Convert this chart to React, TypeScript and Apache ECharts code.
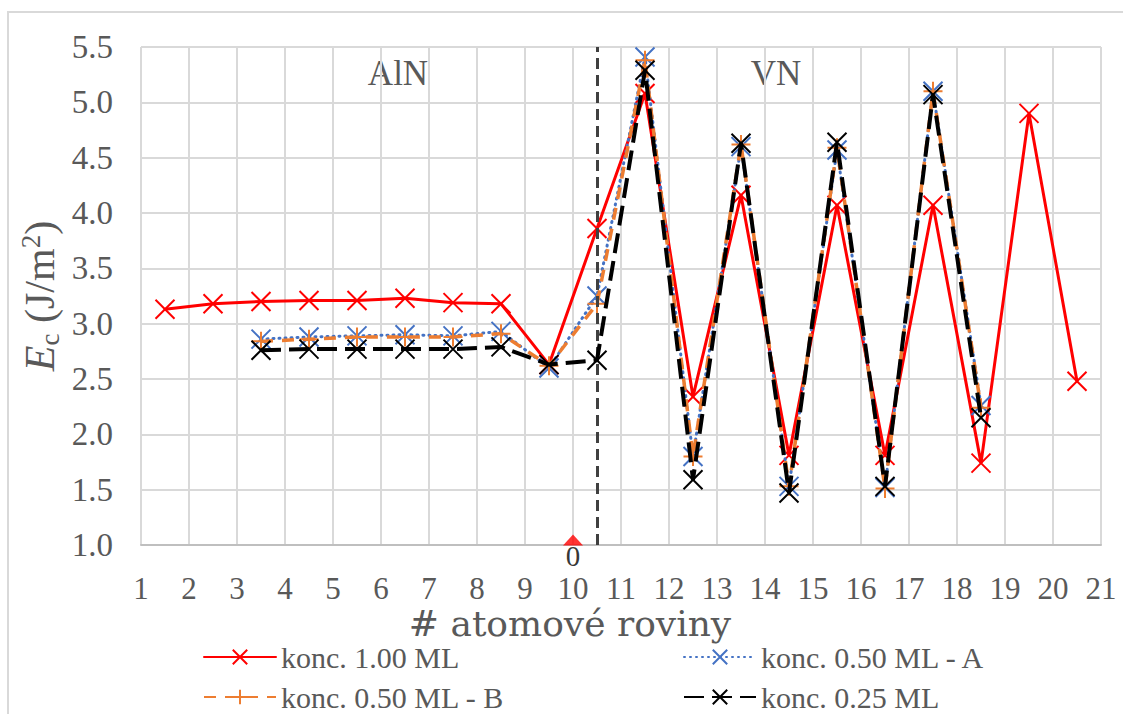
import React, { useEffect, useRef } from "react";
import * as echarts from "echarts";

const xFull = [1.5, 2.5, 3.5, 4.5, 5.5, 6.5, 7.5, 8.5, 9.5, 10.5, 11.5, 12.5, 13.5, 14.5, 15.5, 16.5, 17.5, 18.5, 19.5, 20.5];
const xPart = [3.5, 4.5, 5.5, 6.5, 7.5, 8.5, 9.5, 10.5, 11.5, 12.5, 13.5, 14.5, 15.5, 16.5, 17.5, 18.5];

const conc100 = [3.13, 3.18, 3.20, 3.21, 3.21, 3.23, 3.19, 3.18, 2.63, 3.86, 5.08, 2.34, 4.16, 1.81, 4.07, 1.81, 4.07, 1.74, 4.90, 2.48];
const conc050A = [2.86, 2.88, 2.89, 2.90, 2.89, 2.93, 2.60, 3.25, 5.41, 1.80, 4.60, 1.53, 4.57, 1.52, 5.10, 2.26];
const conc050B = [2.84, 2.86, 2.88, 2.88, 2.88, 2.91, 2.62, 3.18, 5.38, 1.80, 4.62, 1.53, 4.59, 1.51, 5.10, 2.24];
const conc025 = [2.76, 2.77, 2.77, 2.77, 2.77, 2.79, 2.63, 2.67, 5.29, 1.59, 4.63, 1.47, 4.64, 1.53, 5.07, 2.15];

const seriesNames = ["konc. 1.00 ML", "konc. 0.50 ML - A", "konc. 0.50 ML - B", "konc. 0.25 ML"];
const interfaceX = 10.5;
const originPoint = [10, 1.0];
const regionLabels = ["AlN", "VN"];

const FONT = '"Liberation Serif", "DejaVu Serif", serif';
const TITLE_FONT = '"DejaVu Serif", serif';
const GRAY = "#595959";
const CROSS = "path://M0,0L10,10M10,0L0,10";
const PLUS = "path://M5,0L5,10M0,5L10,5";

function pairs(xs: number[], ys: number[]) {
  return xs.map((x, i) => [x, ys[i]]);
}

export default function App() {
  const ref = useRef<HTMLDivElement>(null);
  useEffect(() => {
    if (!ref.current) return;
    const chart = echarts.init(ref.current, null, { renderer: "svg" });
    const mk = (name: string, data: number[][], color: string, lineType: any, width: number, symbol: string, cap: any, z: number) => ({
      name,
      type: "line",
      data,
      z,
      symbol,
      symbolSize: 19,
      showAllSymbol: true,
      silent: true,
      itemStyle: { color, borderColor: color, borderWidth: 2 },
      lineStyle: { color, width, type: lineType, cap },
      emphasis: { disabled: true },
    });
    const legendBase = {
      orient: "vertical",
      top: 642,
      height: 100,
      padding: 0,
      itemWidth: 72,
      itemHeight: 18,
      itemGap: 10,
      textStyle: { fontFamily: FONT, fontSize: 30, color: GRAY, lineHeight: 30 },
    };
    const option: any = {
      animation: false,
      textStyle: { fontFamily: FONT },
      grid: { left: 141, right: 22, top: 47, bottom: 169 },
      xAxis: {
        type: "value",
        min: 1,
        max: 21,
        interval: 1,
        name: "# atomové roviny",
        nameLocation: "middle",
        nameGap: 60,
        nameMoveOverlap: false,
        nameTextStyle: { fontFamily: TITLE_FONT, fontSize: 36, lineHeight: 36, color: GRAY, padding: [0, 102, 0, 0] },
        axisLine: { show: true, lineStyle: { color: "#bfbfbf", width: 2 } },
        axisTick: { show: false },
        axisLabel: { fontFamily: FONT, fontSize: 31, lineHeight: 24, color: GRAY, margin: 31 },
        splitLine: { show: true, lineStyle: { color: "#d9d9d9", width: 2 } },
      },
      yAxis: {
        type: "value",
        min: 1,
        max: 5.5,
        interval: 0.5,
        name: "{e|E}{s|c} (J/m{p|2})",
        nameLocation: "middle",
        nameGap: 78,
        nameMoveOverlap: false,
        nameTextStyle: {
          fontFamily: FONT,
          fontSize: 42,
          color: GRAY,
          rich: {
            e: { fontFamily: FONT, fontSize: 42, fontStyle: "italic", color: GRAY, lineHeight: 46 },
            s: { fontFamily: FONT, fontSize: 27, color: GRAY, verticalAlign: "bottom", lineHeight: 46 },
            p: { fontFamily: FONT, fontSize: 27, color: GRAY, verticalAlign: "top", lineHeight: 46 },
          },
        },
        axisLine: { show: false },
        axisTick: { show: false },
        axisLabel: { fontFamily: FONT, fontSize: 33, color: GRAY, margin: 28, formatter: (v: number) => v.toFixed(1) },
        splitLine: { show: true, lineStyle: { color: "#d9d9d9", width: 2 } },
      },
      legend: [
        { ...legendBase, data: [seriesNames[0], seriesNames[2]], left: 203 },
        { ...legendBase, data: [seriesNames[1], seriesNames[3]], left: 683 },
      ],
      graphic: [
        { type: "rect", shape: { x: 8, y: 12, width: 1300, height: 900 }, style: { fill: "none", stroke: "#d9d9d9", lineWidth: 2 }, z: -10 },
        { type: "text", x: 398, y: 73, style: { text: regionLabels[0], font: `35px ${FONT}`, fill: GRAY, textAlign: "center", textVerticalAlign: "middle" } },
        { type: "text", x: 776, y: 73, style: { text: regionLabels[1], font: `35px ${FONT}`, fill: GRAY, textAlign: "center", textVerticalAlign: "middle" } },
      ],
      series: [
        {
          ...mk(seriesNames[0], pairs(xFull, conc100), "#ff0000", "solid", 3, CROSS, "round", 2),
          markLine: {
            silent: true,
            symbol: "none",
            label: { show: false },
            lineStyle: { color: "#404040", width: 3, type: [11, 6] },
            data: [{ xAxis: interfaceX }],
          },
        },
        mk(seriesNames[1], pairs(xPart, conc050A), "#4472c4", [1, 5], 3, CROSS, "round", 3),
        mk(seriesNames[2], pairs(xPart, conc050B), "#ed7d31", [12, 9], 3.5, PLUS, "butt", 4),
        mk(seriesNames[3], pairs(xPart, conc025), "#000000", [20, 8], 4, CROSS, "butt", 5),
        {
          type: "scatter",
          data: [originPoint],
          symbol: "triangle",
          symbolSize: [20, 11],
          symbolOffset: [0, -5],
          clip: false,
          silent: true,
          z: 6,
          itemStyle: { color: "#ff0000" },
          label: {
            show: true,
            position: "bottom",
            distance: -3,
            formatter: "0",
            fontFamily: FONT,
            fontSize: 29,
            lineHeight: 26,
            color: "#000000",
          },
        },
      ],
    };
    chart.setOption(option);
    return () => chart.dispose();
  }, []);
  return <div ref={ref} style={{ position: "absolute", left: 0, top: 0, width: 1123, height: 714 }} />;
}
